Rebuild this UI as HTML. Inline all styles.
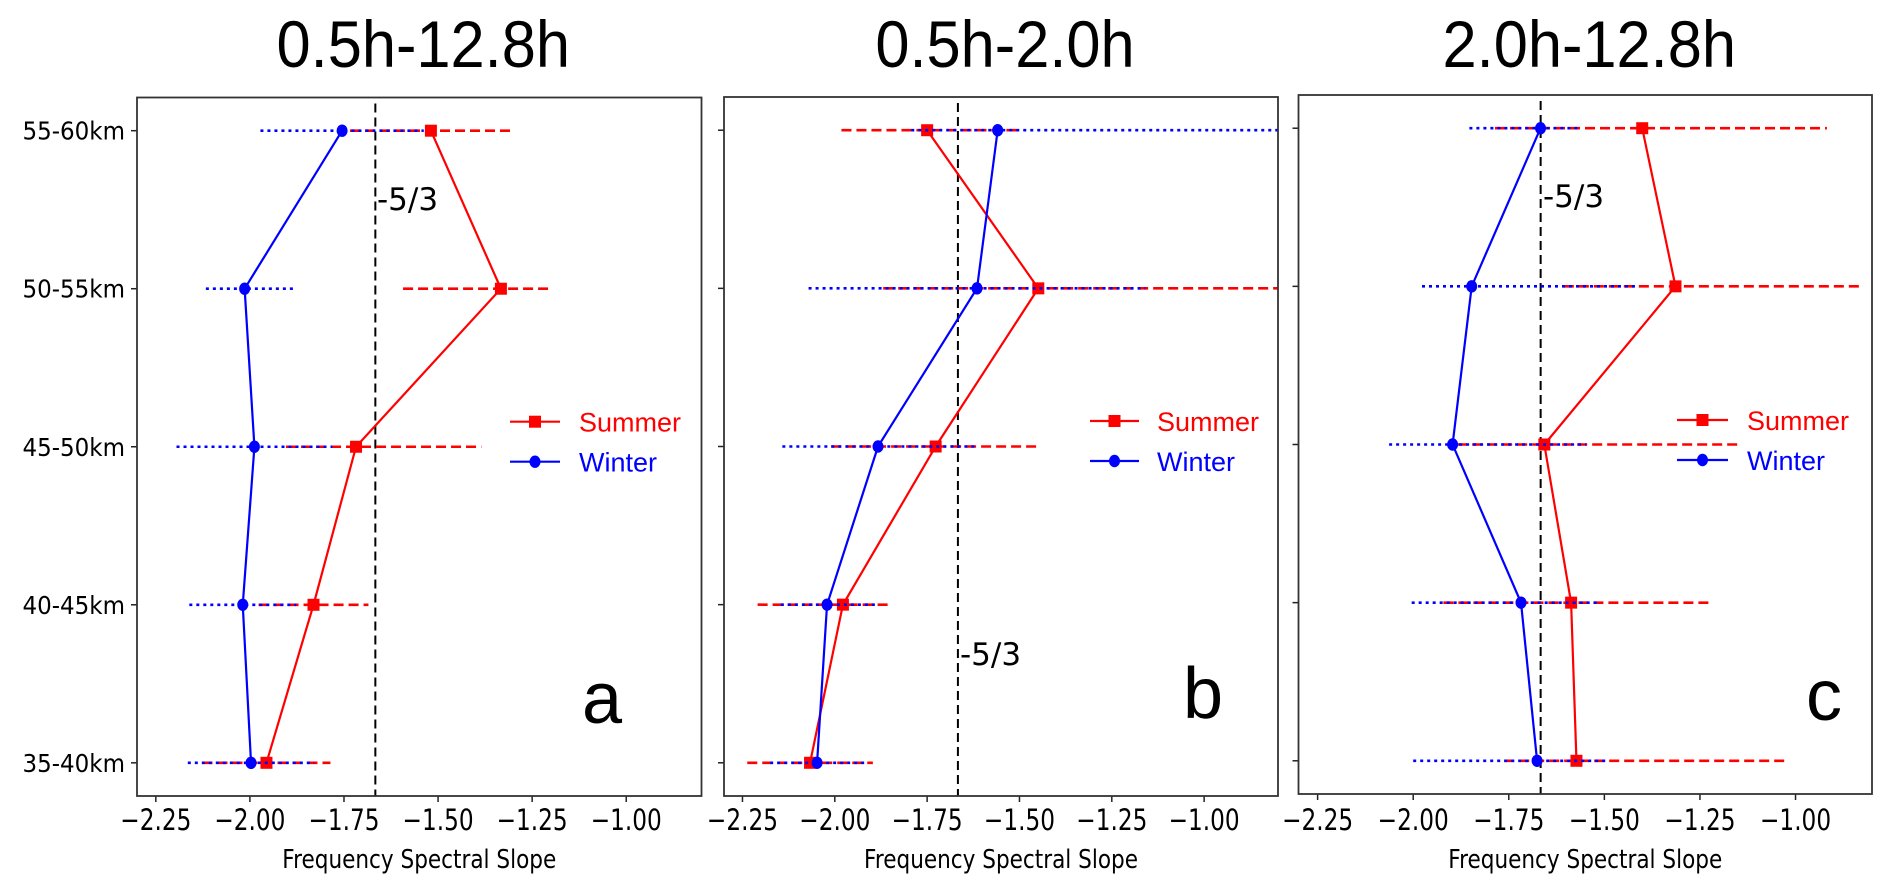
<!DOCTYPE html>
<html><head><meta charset="utf-8">
<style>
html,body{margin:0;padding:0;background:#fff;}
svg{display:block;}
text{font-family:"DejaVu Sans","Liberation Sans",sans-serif;}
.lib{font-family:"Liberation Sans",Arial,sans-serif;}
</style></head>
<body>
<svg id="fig" width="1892" height="887" viewBox="0 0 1892 887" xmlns="http://www.w3.org/2000/svg"></svg>
<script>
const categories = ["35-40km","40-45km","45-50km","50-55km","55-60km"];
const xTicks = [-2.25,-2.00,-1.75,-1.50,-1.25,-1.00];
const xTickLabels = ["\u22122.25","\u22122.00","\u22121.75","\u22121.50","\u22121.25","\u22121.00"];
const refSlope = -5/3;
const titles = ["0.5h-12.8h","0.5h-2.0h","2.0h-12.8h"];
const panelLetters = ["a","b","c"];

const summerA = [-1.956,-1.831,-1.718,-1.333,-1.519];
const summerLoA = [0.17,0.146,0.186,0.26,0.215];
const summerHiA = [0.17,0.146,0.333,0.132,0.212];
const winterA = [-1.997,-2.019,-1.988,-2.014,-1.755];
const winterLoA = [0.168,0.142,0.207,0.103,0.217];
const winterHiA = [0.168,0.142,0.207,0.137,0.217];

const summerB = [-2.067,-1.978,-1.727,-1.449,-1.750];
const summerLoB = [0.17,0.231,0.283,0.42,0.232];
const summerHiB = [0.17,0.129,0.279,0.7,0.25];
const winterB = [-2.048,-2.021,-1.883,-1.615,-1.559];
const winterLoB = [0.127,0.125,0.259,0.456,0.234];
const winterHiB = [0.13,0.135,0.27,0.456,0.8];

const summerC = [-1.573,-1.587,-1.657,-1.314,-1.401];
const summerLoC = [0.189,0.334,0.228,0.292,0.385];
const summerHiC = [0.545,0.371,0.511,0.489,0.483];
const winterC = [-1.676,-1.718,-1.897,-1.847,-1.667];
const winterLoC = [0.324,0.286,0.166,0.13,0.186];
const winterHiC = [0.185,0.202,0.35,0.427,0.104];

const NS = "http://www.w3.org/2000/svg";
const svg = document.getElementById("fig");
function mk(tag, attrs, parent){
  const e = document.createElementNS(NS, tag);
  for (const k in attrs) e.setAttribute(k, attrs[k]);
  (parent||svg).appendChild(e);
  return e;
}

const panels = [
  {x0:137,x1:701.5,y0:97.5,y1:796, s:[summerA,summerLoA,summerHiA], w:[winterA,winterLoA,winterHiA], refLabel:[377,210], letter:[582,723], legX:[510,560,579], legY:[421.7,461.7], ylabels:true},
  {x0:724,x1:1278,y0:97,y1:796, s:[summerB,summerLoB,summerHiB], w:[winterB,winterLoB,winterHiB], refLabel:[960,665], letter:[1183,718], legX:[1090,1139,1157], legY:[421,461], ylabels:false},
  {x0:1298.5,x1:1872,y0:95,y1:794, s:[summerC,summerLoC,summerHiC], w:[winterC,winterLoC,winterHiC], refLabel:[1543,207], letter:[1806,720], legX:[1677,1728,1747], legY:[420,460], ylabels:false}
];
const xlim = [-2.30,-0.80];
const ylim = [-0.21,4.21];

panels.forEach((p, pi) => {
  const g = mk("g", {});
  
  
  const X = v => p.x0 + (v - xlim[0]) / (xlim[1] - xlim[0]) * (p.x1 - p.x0);
  const Y = i => p.y1 - (i - ylim[0]) / (ylim[1] - ylim[0]) * (p.y1 - p.y0);

  const cp = mk("clipPath", {id:"clip"+pi}, g);
  mk("rect", {x:p.x0, y:p.y0, width:p.x1-p.x0, height:p.y1-p.y0}, cp);

  // title
  const t = mk("text", {x:0, y:0, "font-size":66, "text-anchor":"middle", class:"lib", transform:`translate(${(p.x0+p.x1)/2+4},67) scale(0.93,1)`}, g);
  t.textContent = titles[pi];
  
  

  // x ticks
  xTicks.forEach((v, k) => {
    const tk = mk("line", {x1:X(v), x2:X(v), y1:p.y1, y2:p.y1+6, stroke:"#222", "stroke-width":1.5}, g);
    
    
    const tl = mk("text", {x:0, y:0, "font-size":29, "text-anchor":"middle", transform:`translate(${X(v)},830) scale(0.8,1)`}, g);
    tl.textContent = xTickLabels[k];
    
    
  });
  const xl = mk("text", {x:0, y:0, "font-size":26, "text-anchor":"middle", transform:`translate(${(p.x0+p.x1)/2},868) scale(0.83,1)`}, g);
  xl.textContent = "Frequency Spectral Slope";
  
  

  // y ticks
  categories.forEach((c, i) => {
    const tk = mk("line", {x1:p.x0-6, x2:p.x0, y1:Y(i), y2:Y(i), stroke:"#222", "stroke-width":1.5}, g);
    
    
    if (p.ylabels) {
      const yl = mk("text", {x:0, y:0, "font-size":25, "text-anchor":"end", transform:`translate(${p.x0-12},${Y(i)+9}) scale(0.92,1)`}, g);
      yl.textContent = c;
      
      
    }
  });

  // reference line
  const rl = mk("line", {x1:X(refSlope), x2:X(refSlope), y1:p.y0+6, y2:p.y1, stroke:"#000", "stroke-width":2, "stroke-dasharray":"9,5"}, g);
  
  
  const rt = mk("text", {x:p.refLabel[0], y:p.refLabel[1], "font-size":31}, g);
  rt.textContent = "-5/3";
  
  

  const plot = mk("g", {"clip-path":`url(#clip${pi})`}, g);
  function series(arrs, color, dash, name, marker) {
    const [vals, lo, hi] = arrs;
    vals.forEach((v, i) => {
      const eb = mk("line", {x1:X(v-lo[i]), x2:X(v+hi[i]), y1:Y(i), y2:Y(i), stroke:color, "stroke-width":2.6, "stroke-dasharray":dash}, plot);
      
      
    });
    const pts = vals.map((v, i) => X(v) + "," + Y(i)).join(" ");
    const pl = mk("polyline", {points:pts, fill:"none", stroke:color, "stroke-width":2.2}, plot);
    
    
    vals.forEach((v, i) => {
      let m;
      if (marker === "square") m = mk("rect", {x:X(v)-6, y:Y(i)-6, width:12, height:12, fill:color}, plot);
      else m = mk("ellipse", {cx:X(v), cy:Y(i), rx:5.5, ry:6.2, fill:color}, plot);
      
      
    });
  }
  series(p.s, "#ff0000", "10,5", "summer", "square");
  series(p.w, "#0000ff", "3,4", "winter", "circle");

  // frame
  const fr = mk("rect", {x:p.x0, y:p.y0, width:p.x1-p.x0, height:p.y1-p.y0, fill:"none", stroke:"#333", "stroke-width":1.8}, g);
  
  

  // legend
  const leg = mk("g", {}, g);
  
  
  [["Summer","#ff0000","square"],["Winter","#0000ff","circle"]].forEach((e, k) => {
    const y = p.legY[k];
    const ent = mk("g", {}, leg);
    
    
    mk("line", {x1:p.legX[0], x2:p.legX[1], y1:y, y2:y, stroke:e[1], "stroke-width":2.2}, ent);
    const cx = (p.legX[0]+p.legX[1])/2;
    if (e[2] === "square") mk("rect", {x:cx-6, y:y-6, width:12, height:12, fill:e[1]}, ent);
    else mk("ellipse", {cx:cx, cy:y, rx:5.5, ry:6.2, fill:e[1]}, ent);
    const tx = mk("text", {x:p.legX[2], y:y+10, "font-size":27, fill:e[1], class:"lib"}, ent);
    tx.textContent = e[0];
  });

  const lt = mk("text", {x:p.letter[0], y:p.letter[1], "font-size":72, class:"lib"}, g);
  lt.textContent = panelLetters[pi];
  
  
});
</script>
</body></html>
